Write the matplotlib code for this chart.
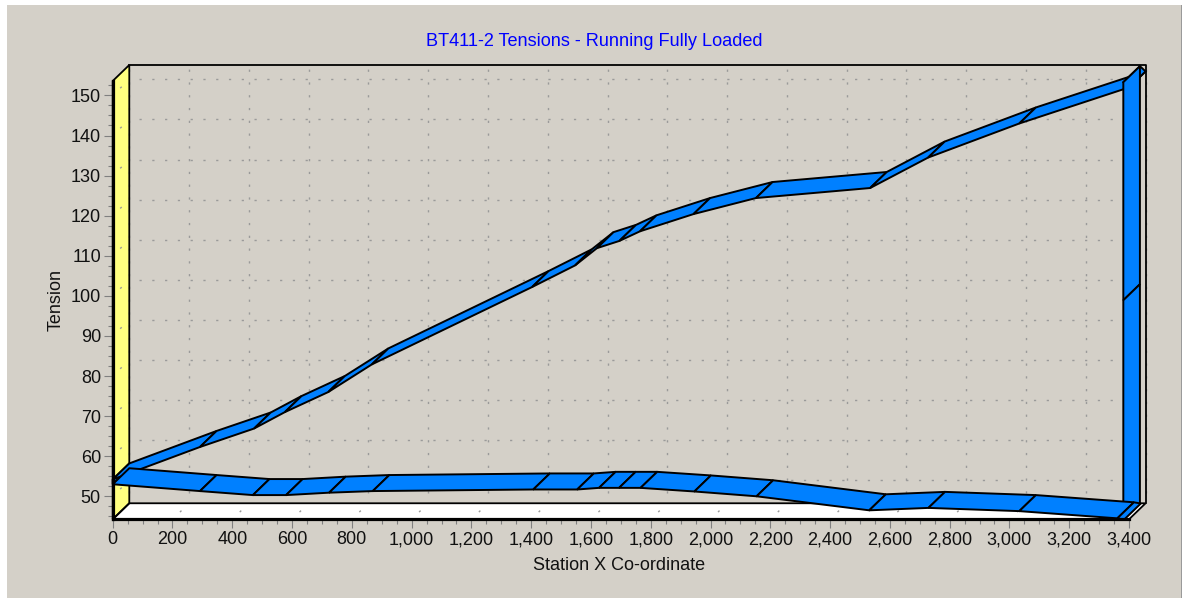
import matplotlib
matplotlib.use("Agg")
import matplotlib.pyplot as plt
from matplotlib.patches import Polygon, Rectangle
from matplotlib.ticker import MultipleLocator, FuncFormatter

plt.rcParams['font.family'] = ['Liberation Sans', 'DejaVu Sans']
plt.rcParams['lines.scale_dashes'] = False

TITLE = "BT411-2 Tensions - Running Fully Loaded"
XLABEL = "Station X Co-ordinate"
YLABEL = "Tension"

carry_x = [0, 0, 292, 473, 576, 721, 867, 1403, 1547, 1620, 1695, 1764, 1943, 2152, 2534, 2728, 3033, 3400]
carry_y = [53, 54.2, 62.3, 66.9, 71.0, 76.0, 82.9, 102.2, 107.6, 111.9, 113.7, 116.1, 120.4, 124.4, 126.9, 134.5, 143.0, 152.0]
head_x = [3400, 3381]
head_y = [152.0, 153.3]
take_x = [3381, 3381, 3381]
take_y = [153.3, 98.9, 44.2]
return_x = [0, 292, 469, 580, 724, 870, 1407, 1554, 1627, 1694, 1766, 1946, 2154, 2531, 2729, 3033, 3361, 3384]
return_y = [53, 51.3, 50.3, 50.3, 50.9, 51.3, 51.7, 51.7, 52.1, 52.1, 52.1, 51.2, 50.0, 46.5, 47.1, 46.3, 44.5, 44.2]

X_MAX = 3400
Y_MIN, Y_MAX = 44.26, 153.6
DEPTH_X, DEPTH_Y = 55.5, 4.0
BG, BLUE, YELLOW = "#D4D0C8", "#0080FF", "#FFFF80"

W, H = 1182, 598
fig = plt.figure(figsize=(W / 100, H / 100), dpi=100, facecolor="white")
fig.add_artist(Rectangle((6.5 / W, 0), (1181 - 6.5) / W, (598 - 4.5) / H,
                         transform=fig.transFigure, facecolor=BG, edgecolor="none", zorder=-5))
fig.add_artist(Rectangle((1181 / W, 0), 1 / W, (598 - 4.5) / H,
                         transform=fig.transFigure, facecolor="#9a9a9a", edgecolor="none", zorder=-5))
ax = fig.add_axes([112.7 / W, 1 - 519.3 / H, (1129 - 112.7) / W, (519.3 - 81) / H])
ax.patch.set_visible(False)
ax.set_xlim(0, X_MAX)
ax.set_ylim(Y_MIN, Y_MAX)


def poly(pts, fc, ec="black", lw=1.3, z=2):
    ax.add_patch(Polygon(pts, closed=True, facecolor=fc, edgecolor=ec, linewidth=lw,
                         joinstyle="miter", clip_on=False, zorder=z))


# dotted grid on back wall, floor and left wall
dots = dict(color="#9a9a9a", lw=1.0, clip_on=False, zorder=2.5, solid_capstyle="butt", dash_capstyle="butt")
for gx in range(0, X_MAX + 1, 200):
    ax.plot([gx + DEPTH_X] * 2, [Y_MIN + DEPTH_Y, Y_MAX + DEPTH_Y], linestyle=(2, (1.6, 7.6)), **dots)
    ax.plot([gx, gx + DEPTH_X], [Y_MIN, Y_MIN + DEPTH_Y], linestyle=(-7.5, (1.5, 30)), **dots)
for gy in range(50, 151, 10):
    ax.plot([DEPTH_X, X_MAX + DEPTH_X], [gy + DEPTH_Y] * 2, linestyle=(2, (1.6, 7.6)), **dots)
    ax.plot([0, DEPTH_X], [gy, gy + DEPTH_Y], linestyle=(-7.5, (1.5, 30)), **dots)

# walls: fills under the dots, frame lines over them
poly([(0, Y_MIN), (DEPTH_X, Y_MIN + DEPTH_Y), (DEPTH_X, Y_MAX + DEPTH_Y), (0, Y_MAX)], YELLOW, ec="none", z=2)
poly([(0, Y_MIN), (X_MAX, Y_MIN), (X_MAX + DEPTH_X, Y_MIN + DEPTH_Y), (DEPTH_X, Y_MIN + DEPTH_Y)], "white", ec="none", z=2)
poly([(0, Y_MIN), (DEPTH_X, Y_MIN + DEPTH_Y), (DEPTH_X, Y_MAX + DEPTH_Y), (0, Y_MAX)], "none", z=2.6)
poly([(0, Y_MIN), (X_MAX, Y_MIN), (X_MAX + DEPTH_X, Y_MIN + DEPTH_Y), (DEPTH_X, Y_MIN + DEPTH_Y)], "none", z=2.6)
ax.plot([DEPTH_X, X_MAX + DEPTH_X, X_MAX + DEPTH_X],
        [Y_MAX + DEPTH_Y, Y_MAX + DEPTH_Y, Y_MIN + DEPTH_Y],
        color="black", lw=1.3, clip_on=False, zorder=2.6)


def ribbon(xs, ys, z=3):
    for i in range(len(xs) - 1):
        poly([(xs[i], ys[i]), (xs[i + 1], ys[i + 1]),
              (xs[i + 1] + DEPTH_X, ys[i + 1] + DEPTH_Y), (xs[i] + DEPTH_X, ys[i] + DEPTH_Y)],
             BLUE, lw=1.4, z=z)


ribbon(carry_x, carry_y, 3)
ribbon(head_x, head_y, 3.1)
ribbon(take_x, take_y, 3.2)
ribbon(return_x, return_y, 3.3)

# axes
for s in ("top", "right"):
    ax.spines[s].set_visible(False)
for s in ("left", "bottom"):
    ax.spines[s].set_linewidth(2.3)
    ax.spines[s].set_zorder(5)
ax.xaxis.set_major_locator(MultipleLocator(200))
ax.xaxis.set_minor_locator(MultipleLocator(50))
ax.yaxis.set_major_locator(MultipleLocator(10))
ax.yaxis.set_minor_locator(MultipleLocator(2.5))
ax.xaxis.set_major_formatter(FuncFormatter(lambda v, p: f"{int(v):,}"))
ax.tick_params(which="major", length=6.5, width=0.8, color="#808080", labelsize=13, labelcolor="#111111", pad=2)
ax.tick_params(which="minor", length=3.5, width=0.8, color="#808080")
ax.set_xlim(0, X_MAX)
ax.set_ylim(Y_MIN, Y_MAX)

fig.text(594 / W, 1 - 41 / H, TITLE, color="#0000FF", fontsize=13.05, ha="center", va="center")
fig.text(619.5 / W, 1 - 566 / H, XLABEL, color="#111111", fontsize=13, ha="center", va="center")
fig.text(56 / W, 1 - 300 / H, YLABEL, color="#111111", fontsize=13, ha="center", va="center", rotation=90)

fig.savefig("out.png", dpi=100, facecolor="white")
